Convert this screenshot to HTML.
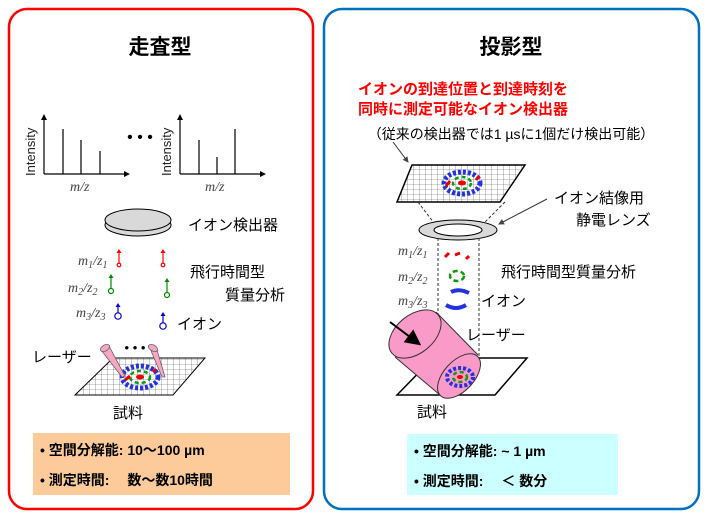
<!DOCTYPE html>
<html><head><meta charset="utf-8"><style>
body{margin:0;background:#fff;}
svg{display:block;font-family:"Liberation Sans","Noto Sans CJK JP",sans-serif;}
.b{font-weight:bold}
.it{font-family:"Liberation Serif",serif;font-style:italic;fill:#444;font-size:14px}
</style></head><body>
<svg width="710" height="532" viewBox="0 0 710 532" xmlns="http://www.w3.org/2000/svg">
<defs>
<pattern id="grid" width="6" height="5" patternUnits="userSpaceOnUse"><path d="M6 0V5M0 5H6" stroke="#555" stroke-width="0.6" fill="none"/></pattern>
<marker id="ah" markerWidth="8" markerHeight="8" refX="6" refY="4" orient="auto"><path d="M0,0L8,4L0,8z" fill="#000"/></marker>
<marker id="ahs" markerWidth="6" markerHeight="6" refX="5" refY="3" orient="auto"><path d="M0,0L6,3L0,6z" fill="#444"/></marker>
</defs>
<rect x="9" y="9" width="304" height="500" rx="18" fill="none" stroke="#ff0000" stroke-width="2.5"/>
<rect x="324" y="9" width="375" height="500" rx="18" fill="none" stroke="#0070c0" stroke-width="2.5"/>
<text x="160" y="54" text-anchor="middle" class="b" font-size="21">走査型</text>
<text x="511" y="54" text-anchor="middle" class="b" font-size="21">投影型</text>

<g stroke="#000" stroke-width="1.2" fill="none">
<path d="M44 174V117M44 174H127"/>
<path d="M63 174V129M81 174V140M100 174V151"/>
<path d="M180 174V117M180 174H263"/>
<path d="M199 174V140M217 174V157M235 174V129"/>
</g>
<path d="M44 114l-3 6h6z M130 174l-6 -3v6z M180 114l-3 6h6z M266 174l-6 -3v6z" fill="#000"/>
<text transform="translate(35,176) rotate(-90)" font-size="13" fill="#222">Intensity</text>
<text transform="translate(171,176) rotate(-90)" font-size="13" fill="#222">Intensity</text>
<text x="70" y="191" class="it">m/z</text>
<text x="205" y="191" class="it">m/z</text>
<text x="140" y="142" font-size="16" text-anchor="middle">• • •</text>

<ellipse cx="138" cy="225" rx="33" ry="11" fill="#d9d9d9" stroke="#000"/>
<ellipse cx="138" cy="220" rx="33" ry="11" fill="#d9d9d9" stroke="#000"/>
<text x="188" y="230" font-size="15">イオン検出器</text>

<text x="78" y="265" class="it">m<tspan font-size="10" dy="3">1</tspan><tspan dy="-3">/z</tspan><tspan font-size="10" dy="3">1</tspan></text>
<text x="68" y="292" class="it">m<tspan font-size="10" dy="3">2</tspan><tspan dy="-3">/z</tspan><tspan font-size="10" dy="3">2</tspan></text>
<text x="76" y="317" class="it">m<tspan font-size="10" dy="3">3</tspan><tspan dy="-3">/z</tspan><tspan font-size="10" dy="3">3</tspan></text>
<g fill="none" stroke-width="1.2">
<g stroke="#f00"><path d="M119 264V252"/><circle cx="119" cy="265" r="1.8"/><path d="M163 264V252"/><circle cx="163" cy="265" r="1.8"/></g>
<g stroke="#080"><path d="M111 289V277"/><circle cx="111" cy="291" r="2.5"/><path d="M167 293V281"/><circle cx="167" cy="295" r="2.5"/></g>
<g stroke="#00c"><path d="M118 313V306"/><circle cx="118" cy="316" r="3.2"/><path d="M163 323V315"/><circle cx="163" cy="326" r="3.2"/></g>
</g>
<path d="M119 249l-2.5 4h5z M163 249l-2.5 4h5z" fill="#f00"/>
<path d="M111 274l-2.5 4h5z M167 278l-2.5 4h5z" fill="#080"/>
<path d="M118 303l-2.5 4h5z M163 312l-2.5 4h5z" fill="#00c"/>
<text x="190" y="277" font-size="15">飛行時間型</text>
<text x="225" y="300" font-size="15">質量分析</text>
<text x="177" y="329" font-size="15">イオン</text>

<text x="32" y="362" font-size="15">レーザー</text>
<text x="135" y="352" font-size="13" text-anchor="middle">• • •</text>
<polygon points="113,358 205,358 173,395 75,395" fill="url(#grid)" stroke="#000" stroke-width="1"/>
<ellipse cx="140" cy="377" rx="18" ry="11" fill="none" stroke="#2233dd" stroke-width="5" stroke-dasharray="3 2"/>
<ellipse cx="140" cy="377" rx="10" ry="6" fill="none" stroke="#119911" stroke-width="2.5" stroke-dasharray="4 3"/>
<ellipse cx="140" cy="377" rx="4" ry="2.5" fill="#e00"/>
<path d="M125 380l5-4M153 372l3-3" stroke="#e00" stroke-width="3"/>
<path d="M101 350l8 -4l16 30l-3 1z" fill="#f7a6c6" stroke="#666" stroke-width="0.8"/>
<ellipse cx="105" cy="348" rx="5" ry="3" fill="#f7a6c6" stroke="#666" stroke-width="0.8" transform="rotate(-30 105 348)"/>
<path d="M149 346l8 4l8 27h-3z" fill="#f7a6c6" stroke="#666" stroke-width="0.8"/>
<ellipse cx="153" cy="348" rx="5" ry="3" fill="#f7a6c6" stroke="#666" stroke-width="0.8" transform="rotate(30 153 348)"/>
<text x="128" y="418" font-size="15" text-anchor="middle">試料</text>

<rect x="33" y="433" width="257" height="62" fill="#fccb99"/>
<text x="40" y="455" class="b" font-size="14">• 空間分解能: 10～100 µm</text>
<text x="40" y="485" class="b" font-size="14">• 測定時間:  　数～数10時間</text>

<text x="463" y="94" text-anchor="middle" class="b" font-size="15" fill="#ff0000">イオンの到達位置と到達時刻を</text>
<text x="463" y="114" text-anchor="middle" class="b" font-size="15" fill="#ff0000">同時に測定可能なイオン検出器</text>
<text x="511" y="139" text-anchor="middle" font-size="14">（従来の検出器では1 µsに1個だけ検出可能）</text>
<path d="M393 142L408 162" stroke="#333" stroke-width="1" marker-end="url(#ahs)"/>
<polygon points="412,165 525,165 500,202 397,202" fill="url(#grid)" stroke="#000" stroke-width="1.5"/>
<ellipse cx="462" cy="183" rx="18" ry="11" fill="none" stroke="#2233dd" stroke-width="5" stroke-dasharray="3 2"/>
<ellipse cx="462" cy="183" rx="9" ry="6" fill="none" stroke="#119911" stroke-width="2.5" stroke-dasharray="4 3"/>
<ellipse cx="462" cy="183" rx="4" ry="2.5" fill="#e00"/>
<path d="M446 186l4-5M476 180l3-4" stroke="#e00" stroke-width="3"/>
<path d="M418 202L437 227M505 202L480 227" stroke="#333" stroke-dasharray="3 2" fill="none"/>
<ellipse cx="458" cy="230" rx="39" ry="10" fill="#d9d9d9" stroke="#000"/>
<ellipse cx="458" cy="230" rx="24" ry="6" fill="#fff" stroke="#000"/>
<path d="M547 199L499 224" stroke="#333" marker-end="url(#ahs)"/>
<text x="554" y="203" font-size="15">イオン結像用</text>
<text x="576" y="225" font-size="15">静電レンズ</text>
<path d="M438 238V363M479 238V363" stroke="#333" stroke-dasharray="3 2"/>
<text x="398" y="255" class="it">m<tspan font-size="10" dy="3">1</tspan><tspan dy="-3">/z</tspan><tspan font-size="10" dy="3">1</tspan></text>
<text x="398" y="281" class="it">m<tspan font-size="10" dy="3">2</tspan><tspan dy="-3">/z</tspan><tspan font-size="10" dy="3">2</tspan></text>
<text x="398" y="305" class="it">m<tspan font-size="10" dy="3">3</tspan><tspan dy="-3">/z</tspan><tspan font-size="10" dy="3">3</tspan></text>
<path d="M445 257l4-4M455 255l5-2M466 259l3-3" stroke="#e00" stroke-width="3"/>
<ellipse cx="457" cy="276" rx="7" ry="5" fill="none" stroke="#119911" stroke-width="2.5" stroke-dasharray="5 3"/>
<path d="M451 292q8-4 18 1M446 305q10 6 20 0" stroke="#2233dd" stroke-width="4" fill="none"/>
<text x="501" y="277" font-size="15">飛行時間型質量分析</text>
<text x="481" y="306" font-size="15">イオン</text>
<text x="466" y="340" font-size="15">レーザー</text>
<polygon points="433,358 527,358 495,395 397,395" fill="#fff" stroke="#000" stroke-width="1.5"/>
<!-- laser cylinder -->
<polygon points="436,312 478,355 440,395 395,357" fill="#f99ac8" stroke="none"/>
<path d="M436,312L478,355M395,357L440,395" stroke="#333" fill="none"/>
<ellipse cx="459" cy="376" rx="27" ry="15" fill="#f99ac8" stroke="#333" transform="rotate(-47 459 376)"/>
<ellipse cx="460" cy="377" rx="13" ry="9" fill="none" stroke="#2233dd" stroke-width="4" stroke-dasharray="3 2"/>
<ellipse cx="460" cy="377" rx="7" ry="5" fill="none" stroke="#119911" stroke-width="2.5" stroke-dasharray="4 3"/>
<ellipse cx="460" cy="377" rx="3" ry="2" fill="#e00"/>
<ellipse cx="415" cy="334" rx="30" ry="19" fill="#f99ac8" stroke="#333" transform="rotate(-40 415 334)"/>
<path d="M390 322L418 343" stroke="#000" stroke-width="2" marker-end="url(#ah)"/>
<text x="432" y="417" font-size="15" text-anchor="middle">試料</text>

<rect x="407" y="434" width="211" height="61" fill="#ccffff"/>
<text x="414" y="456" class="b" font-size="14">• 空間分解能: ~ 1 µm</text>
<text x="414" y="486" class="b" font-size="14">• 測定時間:  　＜ 数分</text>
</svg>
</body></html>
